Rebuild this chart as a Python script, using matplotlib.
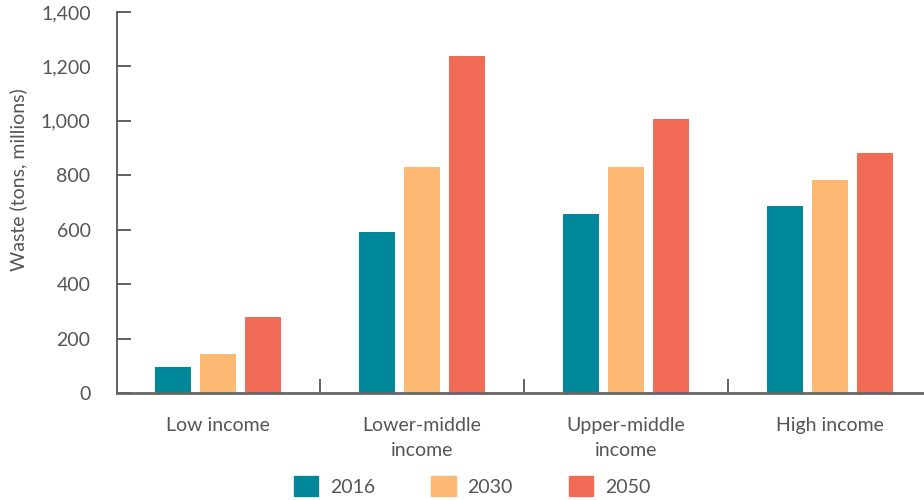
import matplotlib
matplotlib.use("Agg")
import matplotlib.pyplot as plt
import numpy as np
from matplotlib.patches import Patch

categories = ["Low income", "Lower-middle\nincome", "Upper-middle\nincome", "High income"]
years = ["2016", "2030", "2050"]
v2016 = [95, 592, 658, 687]
v2030 = [143, 830, 830, 783]
v2050 = [279, 1238, 1007, 882]
yticks = [0, 200, 400, 600, 800, 1000, 1200, 1400]
colors = ["#00879A", "#FDB973", "#F26B57"]

plt.rcParams['font.family'] = ['Lato', 'DejaVu Sans']
txt = "#555555"
axc = "#555555"
fs = 14

fig = plt.figure(figsize=(9.24, 5), dpi=100)
ax = fig.add_axes([117/924, 1-393/500, 1-117/924, (393-12)/500])

x = np.arange(len(categories))
w = 0.176
off = 0.22
for i, vals in enumerate([v2016, v2030, v2050]):
    ax.bar(x + (i-1)*off, vals, width=w, color=colors[i], zorder=2)

ax.set_xlim(-0.495, 3.46)
ax.set_ylim(0, 1400)
ax.set_yticks(yticks)
ax.set_yticklabels([f"{t:,}" for t in yticks], color=txt, fontsize=fs)
ax.tick_params(axis='y', direction='in', length=10, width=1.3, color=axc, pad=19)

ax.set_xticks(x)
ax.set_xticklabels(categories, color=txt, fontsize=fs, linespacing=1.6)
ax.tick_params(axis='x', length=0, pad=17)
ax.set_xticks([0.5, 1.5, 2.5], minor=True)
ax.tick_params(axis='x', which='minor', direction='in', length=10, width=1.3, color=axc)

for s in ['top', 'right']:
    ax.spines[s].set_visible(False)
ax.spines['left'].set_color(axc)
ax.spines['left'].set_linewidth(1.3)
ax.spines['bottom'].set_color("#666666")
ax.spines['bottom'].set_linewidth(2)
ax.spines['bottom'].set_zorder(3)

fig.text(18/924, 1-180/500, "Waste (tons, millions)", rotation=90, ha='center', va='center',
         color=txt, fontsize=fs)

handles = [Patch(color=c, label=y) for c, y in zip(colors, years)]
leg = fig.legend(handles=handles, loc='center', bbox_to_anchor=(472/924, 1-486/500),
                 ncol=3, frameon=False, fontsize=fs, handlelength=1.25, handleheight=1.25,
                 columnspacing=2.9, handletextpad=0.6)
for t in leg.get_texts():
    t.set_color(txt)

fig.savefig("out.png", dpi=100)
